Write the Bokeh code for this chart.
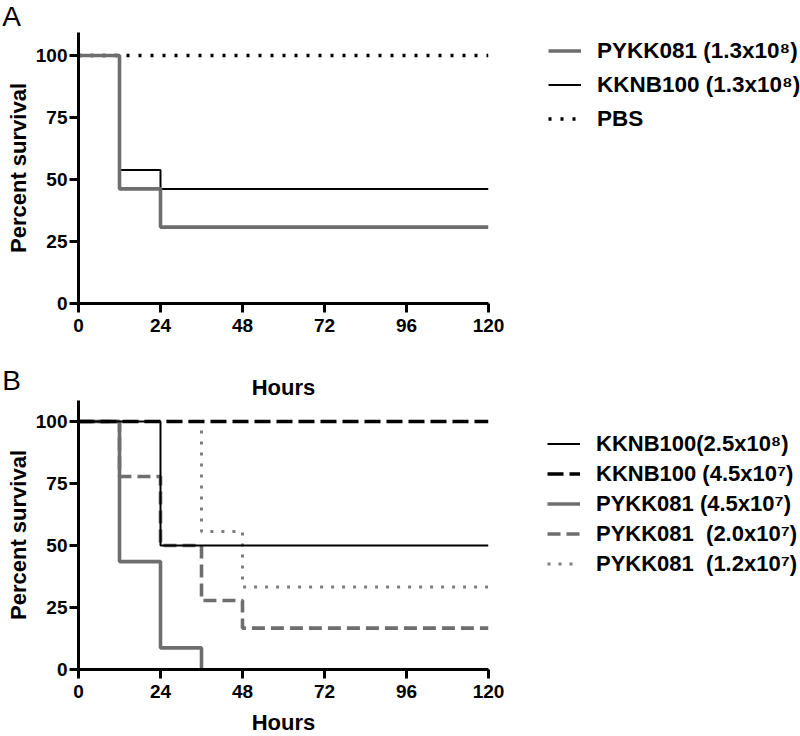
from bokeh.plotting import figure
from bokeh.layouts import column, row
from bokeh.models import Range1d, FixedTicker, Legend, LegendItem
from bokeh.core.properties import value
from bokeh.embed import file_html
from bokeh.resources import INLINE

hours_ticks = [0, 24, 48, 72, 96, 120]
pct_ticks = [0, 25, 50, 75, 100]

# Panel A data (hours, percent survival)
a_pykk_t = [0, 12, 24, 120]
a_pykk_s = [100, 46.2, 30.8, 30.8]
a_kknb_t = [0, 12, 24, 120]
a_kknb_s = [100, 53.8, 46.2, 46.2]
a_pbs_t = [0, 120]
a_pbs_s = [100, 100]
a_labels = ["PYKK081 (1.3x10\u2078)", "KKNB100 (1.3x10\u2078)", "PBS"]

# Panel B data
b_kknb25_t = [0, 24, 120]
b_kknb25_s = [100, 50, 50]
b_kknb45_t = [0, 120]
b_kknb45_s = [100, 100]
b_pykk45_t = [0, 12, 24, 36]
b_pykk45_s = [100, 43.5, 8.7, 0]
b_pykk20_t = [0, 12, 24, 36, 48, 120]
b_pykk20_s = [100, 77.8, 50, 27.8, 16.7, 16.7]
b_pykk12_t = [0, 36, 48, 120]
b_pykk12_s = [100, 55.6, 33.3, 33.3]
b_labels = ["KKNB100(2.5x10\u2078)", "KKNB100 (4.5x10\u2077)", "PYKK081 (4.5x10\u2077)",
            "PYKK081  (2.0x10\u2077)", "PYKK081  (1.2x10\u2077)"]

panel_letters = ["A", "B"]
x_title = "Hours"
y_title = "Percent survival"

FONT = "Liberation Sans"
GRAY = "#6e6e6e"
GRAY_DOT = "#7d7d7d"
W = 800
PW = 508          # width of each plot figure
LW = W - PW       # width of each legend figure

A_STYLES = [  # PBS, KKNB100, PYKK081  (drawing order)
    dict(line_color="black", line_width=3.5, line_dash="3 9"),
    dict(line_color="black", line_width=2),
    dict(line_color=GRAY, line_width=3.6),
]
B_STYLES = [  # PYKK 4.5e7, PYKK 1.2e7, PYKK 2.0e7, KKNB 2.5e8, KKNB 4.5e7
    dict(line_color=GRAY, line_width=3.6),
    dict(line_color=GRAY_DOT, line_width=3, line_dash="3 8"),
    dict(line_color=GRAY, line_width=3.6, line_dash="13 6"),
    dict(line_color="black", line_width=2),
    dict(line_color="black", line_width=3.6, line_dash="16 6"),
]


def style(p):
    p.outline_line_color = None
    p.grid.visible = False
    for ax in (p.xaxis[0], p.yaxis[0]):
        ax.axis_line_width = 3
        ax.axis_line_color = "black"
        ax.major_tick_line_width = 3
        ax.major_tick_line_color = "black"
        ax.major_tick_out = 9
        ax.major_tick_in = 0
        ax.minor_tick_line_color = None
        ax.major_label_text_font = FONT
        ax.major_label_text_font_style = "bold"
        ax.major_label_text_font_size = "19px"
        ax.major_label_text_color = "black"
        ax.axis_label_text_font = FONT
        ax.axis_label_text_font_style = "bold"
        ax.axis_label_text_font_size = "22px"
        ax.axis_label_text_color = "black"
    p.xaxis.ticker = FixedTicker(ticks=hours_ticks)
    p.yaxis.ticker = FixedTicker(ticks=pct_ticks)
    p.yaxis.axis_label = y_title
    p.yaxis.major_label_standoff = 2
    p.yaxis.axis_label_standoff = 2
    p.xaxis.major_label_standoff = 6


def blank(width, height, xr, yr):
    s = figure(width=width, height=height, output_backend="svg", toolbar_location=None,
               x_range=xr, y_range=yr, x_axis_location=None, y_axis_location=None,
               min_border=0)
    s.outline_line_color = None
    s.grid.visible = False
    return s


def make_legend(items, vx, vy, spacing, size):
    return Legend(items=items, location=(vx, vy), orientation="vertical",
                  label_text_font=FONT, label_text_font_style="bold",
                  label_text_font_size=size, label_text_color="black",
                  glyph_width=33, glyph_height=27, label_height=27,
                  label_standoff=16, spacing=spacing, padding=0, margin=0,
                  border_line_alpha=0, background_fill_alpha=0)


def put_text(fig, x, y, txt, size, bold=False):
    fig.text(x=[x], y=[y], text=[txt], text_font=value(FONT), text_font_size=size,
             text_font_style="bold" if bold else "normal", text_align="center",
             text_baseline="middle", text_color="black")


# ---------- top strip with panel letter A (page rows 0-32) ----------
top_sp = blank(W, 32, Range1d(0, W), Range1d(32, 0))
put_text(top_sp, 11, 16, panel_letters[0], "28px")

# ---------- Panel A (page rows 32-343) ----------
pa = figure(width=PW, height=311, output_backend="svg", toolbar_location=None,
            x_range=Range1d(0, 120), y_range=Range1d(0, 109.27),
            min_border_left=78, min_border_right=20, min_border_top=0,
            min_border_bottom=40)
style(pa)
a_series = [(a_pbs_t, a_pbs_s), (a_kknb_t, a_kknb_s), (a_pykk_t, a_pykk_s)]
for (t, s), st in zip(a_series, A_STYLES):
    pa.step(t, s, mode="after", **st)

# legend figure A (its own copies of the series lie outside its view)
la = blank(LW, 311, Range1d(1000, 1100), Range1d(1000, 1100))
ra = [la.step(t, s, mode="after", **st) for (t, s), st in zip(a_series, A_STYLES)]
la.add_layout(make_legend([LegendItem(label=a_labels[0], renderers=[ra[2]]),
                           LegendItem(label=a_labels[1], renderers=[ra[1]]),
                           LegendItem(label=a_labels[2], renderers=[ra[0]])],
                          40, 171, 7, "22.5px"))

# ---------- middle strip: letter B and "Hours" heading (page rows 343-400) ----------
mid_sp = blank(W, 57, Range1d(0, W), Range1d(400, 343))
put_text(mid_sp, 11, 380, panel_letters[1], "28px")
put_text(mid_sp, 283, 387, x_title, "22px", bold=True)

# ---------- Panel B (page rows 400-706) ----------
pb = figure(width=PW, height=306, output_backend="svg", toolbar_location=None,
            x_range=Range1d(0, 120), y_range=Range1d(0, 108.47),
            min_border_left=78, min_border_right=20, min_border_top=0,
            min_border_bottom=37)
style(pb)
b_series = [(b_pykk45_t, b_pykk45_s), (b_pykk12_t, b_pykk12_s), (b_pykk20_t, b_pykk20_s),
            (b_kknb25_t, b_kknb25_s), (b_kknb45_t, b_kknb45_s)]
for (t, s), st in zip(b_series, B_STYLES):
    pb.step(t, s, mode="after", **st)

lb = blank(LW, 306, Range1d(1000, 1100), Range1d(1000, 1100))
rb = [lb.step(t, s, mode="after", **st) for (t, s), st in zip(b_series, B_STYLES)]
lb.add_layout(make_legend([LegendItem(label=b_labels[0], renderers=[rb[3]]),
                           LegendItem(label=b_labels[1], renderers=[rb[4]]),
                           LegendItem(label=b_labels[2], renderers=[rb[0]]),
                           LegendItem(label=b_labels[3], renderers=[rb[2]]),
                           LegendItem(label=b_labels[4], renderers=[rb[1]])],
                          39, 92, 3, "22px"))

# ---------- bottom strip: x-axis title of panel B (page rows 706-736) ----------
bot_sp = blank(W, 30, Range1d(0, W), Range1d(736, 706))
put_text(bot_sp, 283, 722, x_title, "22px", bold=True)

layout = column(top_sp, row(pa, la, spacing=0), mid_sp, row(pb, lb, spacing=0), bot_sp,
                spacing=0)
open("out.html", "w").write(file_html(layout, INLINE))
